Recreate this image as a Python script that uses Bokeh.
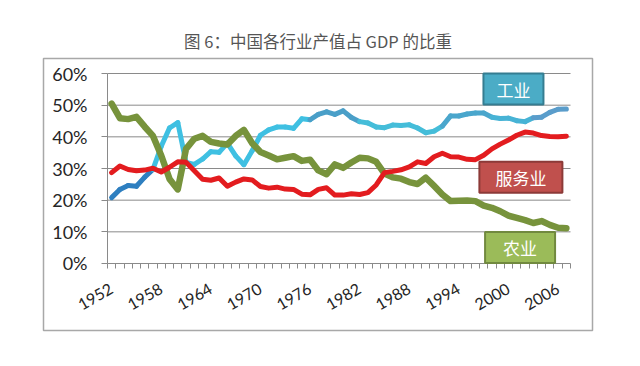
import math
from bokeh.plotting import figure
from bokeh.models import LinearAxis, FixedTicker, PrintfTickFormatter, Label, Range1d
from bokeh.embed import file_html
from bokeh.resources import INLINE

# ---------------- data (share of GDP, %) ----------------
years = list(range(1952, 2008))

industry = [20.8, 23.4, 24.6, 24.4, 27.3, 29.7, 37.0, 42.8, 44.5, 31.9,
            31.3, 33.0, 35.3, 35.1, 38.0, 34.0, 31.2, 35.6, 40.5, 42.2,
            43.1, 43.1, 42.7, 45.7, 45.4, 47.1, 47.9, 47.1, 48.2, 46.1,
            44.8, 44.4, 43.1, 42.9, 43.7, 43.6, 43.8, 42.8, 41.3, 41.8,
            43.4, 46.6, 46.6, 47.2, 47.5, 47.5, 46.2, 45.8, 45.9, 45.1,
            44.8, 46.0, 46.2, 47.7, 48.7, 48.8]

agriculture = [50.5, 45.9, 45.6, 46.3, 43.2, 40.3, 34.1, 26.7, 23.4, 36.2,
               39.4, 40.3, 38.4, 37.9, 37.6, 40.3, 42.2, 38.0, 35.2, 34.1,
               32.9, 33.4, 33.9, 32.4, 32.8, 29.4, 28.2, 31.3, 30.2, 31.9,
               33.4, 33.2, 32.1, 28.4, 27.2, 26.8, 25.7, 25.1, 27.1, 24.5,
               21.8, 19.7, 19.8, 19.9, 19.7, 18.3, 17.6, 16.5, 15.1, 14.4,
               13.7, 12.8, 13.4, 12.2, 11.3, 11.1]

services = [28.7, 30.8, 29.7, 29.3, 29.5, 30.1, 28.9, 30.4, 32.1, 32.0,
            29.3, 26.6, 26.3, 27.0, 24.4, 25.7, 26.7, 26.4, 24.3, 23.8,
            24.1, 23.5, 23.4, 21.9, 21.7, 23.4, 23.9, 21.6, 21.6, 22.0,
            21.8, 22.4, 24.8, 28.7, 29.1, 29.6, 30.5, 32.1, 31.6, 33.7,
            34.8, 33.7, 33.6, 32.9, 32.8, 34.2, 36.2, 37.7, 39.0, 40.5,
            41.5, 41.2, 40.4, 40.1, 40.0, 40.2]

y_ticks = [0, 10, 20, 30, 40, 50, 60]
x_label_years = [1952, 1958, 1964, 1970, 1976, 1982, 1988, 1994, 2000, 2006]
series_names = ["工业", "服务业", "农业"]
title_text = "图 6：中国各行业产值占 GDP 的比重"

# ---------------- styling ----------------
CJK = "Noto Sans CJK SC"
NUM = "Lato"
GRID = "#8a8a8a"
C_AGR = "#77933c"
C_SRV = "#e31c1f"

x0, x1 = years[0] - 0.5, years[-1] + 0.5

p = figure(width=624, height=350, output_backend="svg", toolbar_location=None,
           x_range=Range1d(1943.76, 2010.16), y_range=Range1d(-21.16, 64.74),
           x_axis_location=None, y_axis_location=None,
           min_border_left=43, min_border_right=32,
           min_border_top=58, min_border_bottom=20,
           title=title_text)
p.xgrid.visible = False
p.ygrid.visible = False
p.outline_line_color = "#a8a8a8"
p.outline_line_width = 1.5
p.background_fill_color = "white"
p.border_fill_color = "white"

p.title.align = "center"
p.title.text_font = CJK
p.title.text_font_size = "16.5px"
p.title.text_font_style = "normal"
p.title.text_color = "#555555"
p.title.standoff = 12

# horizontal gridlines over the plot area only
gy = y_ticks[1:]
p.segment(x0=[x0] * len(gy), x1=[x1] * len(gy), y0=gy, y1=gy,
          line_color=GRID, line_width=1)

# y axis
yax = LinearAxis(fixed_location=x0, bounds=(y_ticks[0], y_ticks[-1]),
                 ticker=FixedTicker(ticks=y_ticks, minor_ticks=[]),
                 formatter=PrintfTickFormatter(format="%d%%"))
yax.major_tick_out = 6
yax.major_tick_in = 0
yax.minor_tick_out = 0
yax.minor_tick_in = 0
yax.axis_line_color = GRID
yax.major_tick_line_color = GRID
yax.major_label_text_font = NUM
yax.major_label_text_font_size = "18px"
yax.major_label_text_color = "#262626"
yax.major_label_standoff = 14
p.add_layout(yax, "left")

# x axis (category boundaries as tick marks)
bounds_ticks = [y - 0.5 for y in years] + [x1]
xax = LinearAxis(fixed_location=0, bounds=(x0, x1),
                 ticker=FixedTicker(ticks=x_label_years, minor_ticks=bounds_ticks),
                 formatter=PrintfTickFormatter(format="%d"))
xax.major_tick_out = 0
xax.major_tick_in = 0
xax.minor_tick_out = 5
xax.minor_tick_in = 0
xax.axis_line_color = GRID
xax.minor_tick_line_color = GRID
xax.major_label_orientation = math.pi / 6
xax.major_label_standoff = 19
xax.major_label_text_font = NUM
xax.major_label_text_font_size = "16px"
xax.major_label_text_color = "#262626"
p.add_layout(xax, "below")

# industry line (colour shading varies along the line)
def seg_color(y):
    if y < 1957:
        return "#2e7fc0"
    if y < 1976:
        return "#3fc0e2"
    if y < 1982:
        return "#4a9fc8"
    if y < 1992:
        return "#45bdd9"
    if y < 1998:
        return "#4aa6cc"
    if y < 2003:
        return "#47b3d5"
    return "#5a9dcb"

seg_colors = [seg_color(y) for y in years[:-1]]
p.segment(x0=years[:-1], y0=industry[:-1], x1=years[1:], y1=industry[1:],
          line_color=seg_colors, line_width=5, line_cap="round")

p.line(years, agriculture, line_color=C_AGR, line_width=6.5, line_join="round", line_cap="round")
p.line(years, services, line_color=C_SRV, line_width=5, line_join="round", line_cap="round")

# series name boxes: (name, x, y, fill, edge, horizontal padding)
box_specs = [
    (series_names[0], 2000.6, 55.1, "#4bacc6", "#357d91", 13),
    (series_names[1], 2001.5, 27.2, "#c0504d", "#8c3a38", 16),
    (series_names[2], 2001.4, 5.05, "#9bbb59", "#71893f", 18),
]
for name, bx, by, fill, edge, padx in box_specs:
    p.add_layout(Label(x=bx, y=by, text=name, text_align="center",
                       text_baseline="middle", text_font=CJK, text_font_size="17px",
                       text_color="white", background_fill_color=fill,
                       border_line_color=edge, border_line_width=2,
                       padding=(padx, 3)))

open("out.html", "w").write(file_html(p, INLINE))
